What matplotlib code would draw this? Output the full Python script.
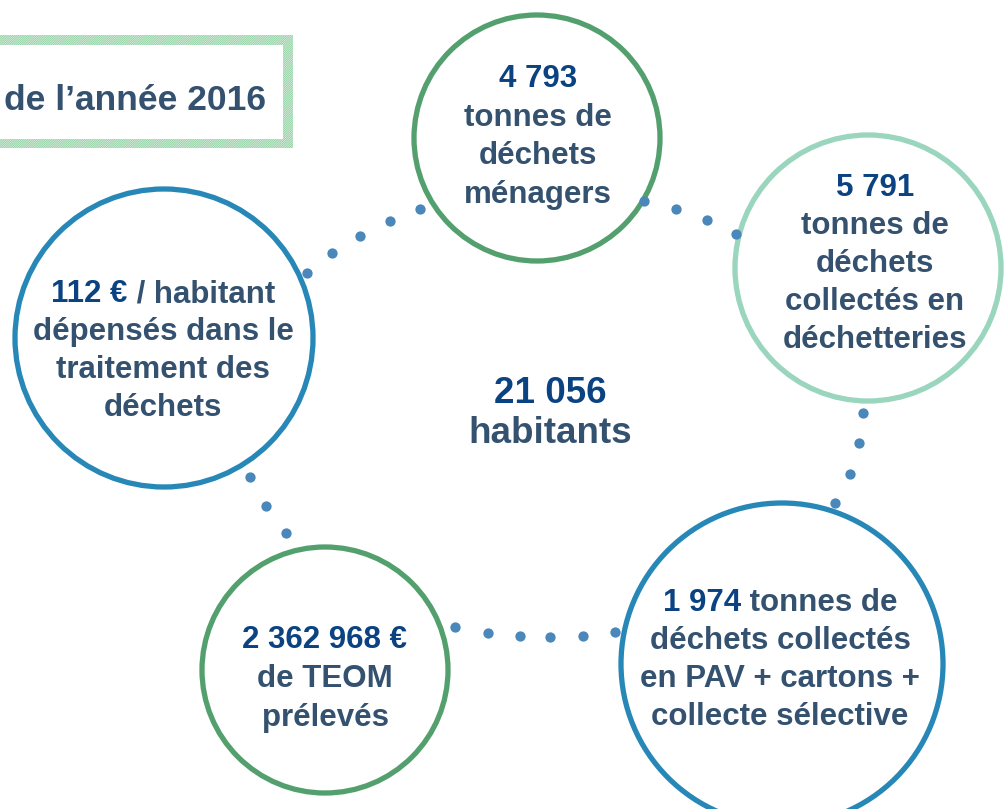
import matplotlib.pyplot as plt
from matplotlib.patches import Circle, Rectangle

plt.rcParams["font.family"] = ["Liberation Sans", "DejaVu Sans"]
plt.rcParams["font.weight"] = "bold"
plt.rcParams["hatch.linewidth"] = 0.6

NUM = "#0b4282"     # dark blue for the figures
TXT = "#34526f"     # slate for the words
DOT = "#4a88bb"

# content of each bubble: list of lines, each line a list of (text, is_number)
title = "de l\u2019année 2016"
population = ["21 056", "habitants"]
bubble_lines = [
    [[("4 793", True)], [("tonnes de", False)], [("déchets", False)], [("ménagers", False)]],
    [[("5 791", True)], [("tonnes de", False)], [("déchets", False)],
     [("collectés en", False)], [("déchetteries", False)]],
    [[("112 €", True), (" / habitant", False)], [("dépensés dans le", False)],
     [("traitement des", False)], [("déchets", False)]],
    [[("2 362 968 €", True)], [("de TEOM", False)], [("prélevés", False)]],
    [[("1 974", True), (" tonnes de", False)], [("déchets collectés", False)],
     [("en PAV + cartons +", False)], [("collecte sélective", False)]],
]

# layout (pixel coordinates of the 1005x809 canvas)
centers = [(537, 138), (868, 268), (164, 338), (325, 670), (782, 664)]
radii = [123, 133, 149, 123, 161]
ring_colors = ["#53a06e", "#9ad5bd", "#2787b7", "#53a06e", "#2787b7"]
text_x = [538, 875, 163, 325, 780]
first_baseline = [87, 196, 302, 648, 611]
line_step = [38.5, 38, 38, 39, 38]

dots_x = [307, 332, 360, 390, 420, 644, 676, 707, 736, 863, 859, 850, 835,
          250, 266, 286, 455, 488, 520, 550, 583, 615]
dots_y = [273, 253, 236, 221, 209, 201, 209, 220, 234, 413, 443, 474, 503,
          477, 506, 533, 627, 633, 636, 637, 636, 632]

fig = plt.figure(figsize=(10.05, 8.09), dpi=100)
ax = fig.add_axes([0, 0, 1, 1])
ax.set_xlim(0, 1005)
ax.set_ylim(809, 0)
ax.axis("off")

# hatched title frame
for (x, y, w, h) in [(-20, 35, 308, 10), (283, 35, 10, 113), (-20, 139, 308, 9)]:
    ax.add_patch(Rectangle((x, y), w, h, facecolor="white", edgecolor="#86cc9a",
                           hatch="/" * 18, lw=0))
ax.text(266, 110, title, ha="right", va="baseline", fontsize=25.5, color=TXT)

for (cx, cy), r, c in zip(centers, radii, ring_colors):
    ax.add_patch(Circle((cx, cy), r, facecolor="white", edgecolor=c, lw=3.8, zorder=2))

# connecting dots
ax.scatter(dots_x, dots_y, s=55, color=DOT, zorder=4, linewidths=0)

fig.canvas.draw()
renderer = fig.canvas.get_renderer()


def draw_line(x, y, segments, size=22.5):
    # measure each part so the whole line can be centred on x
    parts = []
    for s, is_num in segments:
        t = ax.text(0, y, s, fontsize=size, va="baseline", ha="left",
                    color=NUM if is_num else TXT, zorder=3)
        w = t.get_window_extent(renderer).width
        parts.append((t, w))
    total = sum(w for _, w in parts)
    left = x - total / 2
    for t, w in parts:
        t.set_x(left)
        left += w


for lines, x, b0, step in zip(bubble_lines, text_x, first_baseline, line_step):
    for i, segs in enumerate(lines):
        draw_line(x, b0 + i * step, segs)

ax.text(550, 403, population[0], ha="center", va="baseline", fontsize=26.5, color=NUM)
ax.text(550, 443, population[1], ha="center", va="baseline", fontsize=26.5, color=TXT)

fig.savefig("out.png", dpi=100)
